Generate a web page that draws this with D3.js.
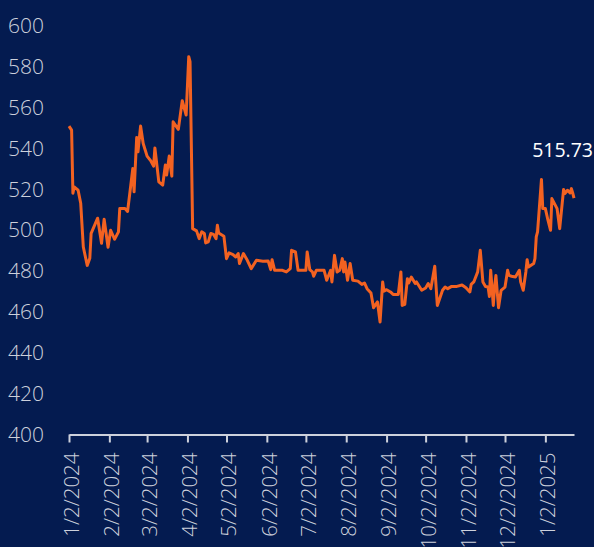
<!DOCTYPE html>
<html><head><meta charset="utf-8">
<script src="https://cdn.jsdelivr.net/npm/d3@7"></script>
<style>html,body{margin:0;padding:0;background:#041b50;overflow:hidden;} svg{display:block;}</style>
</head><body><svg id="c" width="594" height="547"></svg>
<script>
const dates = ["2024-01-02","2024-01-04","2024-01-05","2024-01-06","2024-01-09","2024-01-11","2024-01-13","2024-01-16","2024-01-18","2024-01-19",
"2024-01-24","2024-01-27","2024-01-29","2024-02-01","2024-02-03","2024-02-06","2024-02-09","2024-02-10","2024-02-14","2024-02-16",
"2024-02-18","2024-02-20","2024-02-21","2024-02-23","2024-02-24","2024-02-26","2024-02-28","2024-03-02","2024-03-05","2024-03-07",
"2024-03-08","2024-03-11","2024-03-14","2024-03-16","2024-03-17","2024-03-19","2024-03-21","2024-03-22","2024-03-26","2024-03-29",
"2024-04-01","2024-04-03","2024-04-04","2024-04-06","2024-04-09","2024-04-11","2024-04-13","2024-04-15","2024-04-16","2024-04-18",
"2024-04-20","2024-04-22","2024-04-24","2024-04-25","2024-04-26","2024-04-30","2024-05-02","2024-05-04","2024-05-07","2024-05-09",
"2024-05-11","2024-05-12","2024-05-15","2024-05-18","2024-05-21","2024-05-25","2024-05-30","2024-06-03","2024-06-05","2024-06-06",
"2024-06-08","2024-06-14","2024-06-17","2024-06-20","2024-06-21","2024-06-24","2024-06-26","2024-07-02","2024-07-03","2024-07-05",
"2024-07-07","2024-07-08","2024-07-10","2024-07-16","2024-07-18","2024-07-21","2024-07-22","2024-07-24","2024-07-26","2024-07-28",
"2024-07-30","2024-07-31","2024-08-01","2024-08-03","2024-08-05","2024-08-07","2024-08-11","2024-08-14","2024-08-16","2024-08-18",
"2024-08-21","2024-08-23","2024-08-26","2024-08-28","2024-08-30","2024-08-31","2024-09-02","2024-09-05","2024-09-07","2024-09-11",
"2024-09-13","2024-09-14","2024-09-16","2024-09-18","2024-09-19","2024-09-21","2024-09-24","2024-09-25","2024-09-29","2024-10-02",
"2024-10-04","2024-10-06","2024-10-09","2024-10-11","2024-10-15","2024-10-17","2024-10-19","2024-10-22","2024-10-26","2024-10-30",
"2024-11-02","2024-11-05","2024-11-06","2024-11-08","2024-11-11","2024-11-13","2024-11-15","2024-11-17","2024-11-19","2024-11-20",
"2024-11-21","2024-11-23","2024-11-24","2024-11-25","2024-11-27","2024-11-29","2024-12-02","2024-12-04","2024-12-05","2024-12-07",
"2024-12-10","2024-12-13","2024-12-14","2024-12-16","2024-12-18","2024-12-19","2024-12-20","2024-12-24","2024-12-25","2024-12-26",
"2024-12-27","2024-12-30","2024-12-31","2025-01-02","2025-01-04","2025-01-06","2025-01-07","2025-01-11","2025-01-13","2025-01-16",
"2025-01-17","2025-01-19","2025-01-21","2025-01-22","2025-01-23","2025-01-24"];
const values = [551.0,549.0,518.1,521.2,519.6,513.2,491.8,482.8,486.3,498.5,
505.9,493.6,505.4,491.7,500.0,495.6,499.2,510.6,510.6,509.2,
519.6,530.2,518.8,545.4,538.4,551.0,542.5,536.3,533.8,531.4,
540.3,523.7,522.1,531.9,527.0,536.3,526.5,553.1,549.4,563.4,
556.4,585.0,582.5,500.8,499.7,495.9,499.2,498.4,493.8,494.3,
498.4,498.0,495.9,502.5,498.7,497.1,486.1,488.9,488.1,486.9,
488.6,483.7,488.6,485.3,481.2,485.3,484.8,485.0,480.7,485.6,
480.4,480.4,479.6,481.2,490.2,489.4,480.4,480.4,489.4,480.7,
479.6,477.5,480.4,480.4,475.5,480.4,474.7,487.7,479.6,480.4,
486.1,479.6,484.5,475.5,483.7,475.5,475.1,473.5,474.2,471.4,
469.3,462.1,464.9,455.1,474.7,470.2,470.9,469.8,468.6,468.6,
479.6,463.2,463.7,476.3,474.2,477.1,473.9,474.7,470.6,471.7,
473.9,471.4,482.4,463.2,470.6,472.2,471.4,472.5,472.5,473.2,
471.9,469.8,473.5,474.7,479.6,490.2,474.7,472.5,472.2,467.6,
480.4,463.2,472.2,477.9,462.1,470.6,472.2,480.4,477.9,477.5,
477.1,480.4,474.7,470.6,479.6,485.6,482.0,483.7,486.1,496.7,
499.2,524.9,510.6,510.6,504.9,500.0,515.5,510.6,500.8,520.0,
518.0,519.6,518.3,520.4,518.3,515.73];
const yTicks = [400,420,440,460,480,500,520,540,560,580,600];
const xTickDates = ["2024-01-02","2024-02-02","2024-03-02","2024-04-02","2024-05-02","2024-06-02","2024-07-02",
"2024-08-02","2024-09-02","2024-10-02","2024-11-02","2024-12-02","2025-01-02"];
const lastLabel = "515.73";

const parse = d3.timeParse("%Y-%m-%d");
const data = dates.map((d,i)=>({date:parse(d), value:values[i]}));
const svg = d3.select("#c");
const W = 594, H = 547;
svg.append("rect").attr("width",W).attr("height",H).attr("fill","#041b50");

const x = d3.scaleTime().domain(d3.extent(data,d=>d.date)).range([69,574]);
const y = d3.scaleLinear().domain([400,600]).range([434.5,26]);
const font = "'Open Sans', 'Noto Sans', sans-serif";
const axisColor = "#cdd1dc";

// y labels
const yAxis = svg.append("g").attr("transform","translate(44,0)")
  .call(d3.axisLeft(y).tickValues(yTicks).tickSize(0).tickPadding(0).tickFormat(d3.format("d")));
yAxis.select(".domain").remove();
yAxis.selectAll("text").attr("fill",axisColor).attr("font-family",font).attr("font-size",21).attr("font-weight",300);

// x axis
const xAxis = svg.append("g").attr("transform",`translate(0,${y(400)})`)
  .call(d3.axisBottom(x).tickValues(xTickDates.map(parse)).tickSizeInner(8).tickSizeOuter(0)
        .tickFormat(d3.timeFormat("%-m/%-d/%Y")));
xAxis.select(".domain").attr("stroke",axisColor).attr("stroke-width",2);
xAxis.selectAll(".tick line").attr("stroke",axisColor).attr("stroke-width",2);
xAxis.selectAll("text")
  .attr("fill",axisColor).attr("font-family",font).attr("font-size",20.5).attr("font-weight",300)
  .attr("text-anchor","end").attr("transform","rotate(-90)")
  .attr("x",-18).attr("y",2).attr("dy","0.36em");

// line
const line = d3.line().x(d=>x(d.date)).y(d=>y(d.value)).curve(d3.curveLinear);
svg.append("path").datum(data).attr("d",line)
  .attr("fill","none").attr("stroke","#f36221").attr("stroke-width",3).attr("stroke-linejoin","round");

// last value label
const last = data[data.length-1];
svg.append("text").attr("x",x(last.date)+19).attr("y",y(last.value)-41)
  .attr("text-anchor","end").attr("fill","#ffffff").attr("font-family",font).attr("font-size",19.5)
  .text(lastLabel);
</script></body></html>
